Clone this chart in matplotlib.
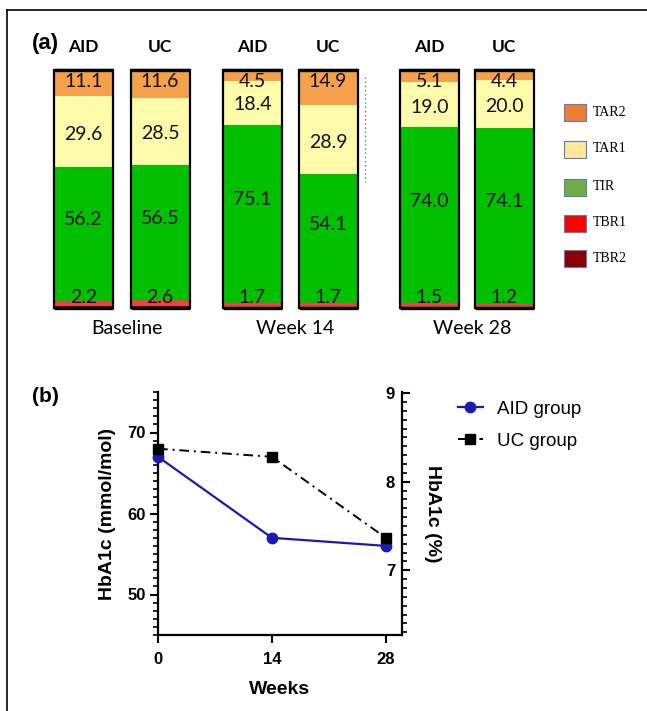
import numpy as np
import matplotlib
matplotlib.use("Agg")
import matplotlib.pyplot as plt
from matplotlib.patches import Rectangle
from matplotlib.ticker import MultipleLocator

# ---- panel (a) data: time in ranges (%) ----
groups = ["Baseline", "Week 14", "Week 28"]
arms = ["AID", "UC", "AID", "UC", "AID", "UC"]
tar2 = [11.1, 11.6, 4.5, 14.9, 5.1, 4.4]
tar1 = [29.6, 28.5, 18.4, 28.9, 19.0, 20.0]
tir = [56.2, 56.5, 75.1, 54.1, 74.0, 74.1]
tbr1 = [2.2, 2.6, 1.7, 1.7, 1.5, 1.2]
tbr2 = [0.9, 0.8, 0.3, 0.4, 0.4, 0.3]
range_names = ["TAR2", "TAR1", "TIR", "TBR1", "TBR2"]

# ---- panel (b) data: HbA1c ----
weeks = [0, 14, 28]
aid_hba1c = [67, 57, 56]
uc_hba1c = [68, 67, 57]

W, H = 647, 711
fig = plt.figure(figsize=(W / 100, H / 100), dpi=100)


def box(x0, y0, x1, y1):
    # pixel box (top-left origin) -> figure fraction rect
    return [x0 / W, 1 - y1 / H, (x1 - x0) / W, (y1 - y0) / H]


# overlay in pixel units for frame, titles and legend of (a)
ov = fig.add_axes([0, 0, 1, 1], zorder=0)
ov.set_xlim(0, W)
ov.set_ylim(H, 0)
ov.axis("off")
ov.plot([7, 7], [10, H], color="black", lw=1.2)
ov.plot([7, W], [10, 10], color="black", lw=1.2)

# ---------------- panel (a) ----------------
ax_a = fig.add_axes(box(53, 70, 534, 308), zorder=1)
ax_a.set_xlim(53, 534)
ax_a.set_ylim(0, 100)
ax_a.axis("off")

xpos = [83.5, 160, 252.5, 328, 429.5, 504]
bw = 59
bar_cols = ["#F5A04A", "#FFFBAA", "#00C000", "#EE4048", "#5A0000"]

stack = [tbr2, tbr1, tir, tar1, tar2]
cols_bottom_up = bar_cols[::-1]
bottom = np.zeros(len(xpos))
for vals, c in zip(stack, cols_bottom_up):
    ax_a.bar(xpos, vals, bw, bottom=bottom, color=c, lw=0, clip_on=False)
    bottom += np.array(vals)
totals = bottom.copy()
ax_a.bar(xpos, totals, bw, fill=False, edgecolor="black", lw=1.6, clip_on=False)
for x, t in zip(xpos, totals):
    ax_a.plot([x - bw / 2, x + bw / 2], [t, t], color="black", lw=2.4,
              solid_capstyle="butt", clip_on=False)
    ax_a.plot([x - bw / 2, x + bw / 2], [0, 0], color="black", lw=2.4,
              solid_capstyle="butt", clip_on=False)

lab_font = dict(family="Lato", fontsize=14, ha="center", va="center", color="#111111")
for i, x in enumerate(xpos):
    b1 = tbr2[i] + tbr1[i]
    ax_a.text(x, 4.6, f"{tbr1[i]:.1f}", **lab_font)
    ax_a.text(x, b1 + tir[i] / 2 + 6, f"{tir[i]:.1f}", **lab_font)
    b2 = b1 + tir[i]
    ax_a.text(x, b2 + tar1[i] / 2 - 1, f"{tar1[i]:.1f}", **lab_font)
    ax_a.text(x, totals[i] - 5, f"{tar2[i]:.1f}", **lab_font)

# arm headers and group labels
for x, a in zip(xpos, arms):
    ov.text(x, 47, a, family="Lato", fontweight="bold", fontsize=12.5,
            ha="center", va="center")
for g, (x0, x1) in zip(groups, [(xpos[0], xpos[1]), (xpos[2], xpos[3]), (xpos[4], xpos[5])]):
    ov.text((x0 + x1) / 2 + 5, 329, g, family="Lato", fontsize=14,
            ha="center", va="center")
ov.text(45, 44, "(a)", family="Liberation Sans", fontweight="bold", fontsize=16,
        ha="center", va="center")
ov.plot([365, 365], [77, 182], color="#777777", lw=1, ls=(0, (1, 2)))

# legend of (a)
leg_cols = ["#ED7D31", "#FFE699", "#70AD47", "#FF0000", "#8B0000"]
for name, c, yc in zip(range_names, leg_cols, [112, 149, 187, 223, 258]):
    ov.add_patch(Rectangle((564, yc - 8.5), 22, 17, facecolor=c,
                           edgecolor="#5B7FB8", lw=0.8))
    ov.text(593, yc, name, family="Liberation Serif", fontsize=10,
            ha="left", va="center")

# ---------------- panel (b) ----------------
sans = "Liberation Sans"
ax_b = fig.add_axes(box(158, 392, 402, 635), zorder=1)
ax_b.plot(weeks, aid_hba1c, color="#1A1AB0", marker="o", ms=7.5, lw=1.6,
          label="AID group", clip_on=False, zorder=3)
ax_b.plot(weeks, uc_hba1c, color="black", ls=(0, (5, 2.5, 1, 2.5)), marker="s",
          ms=6.5, lw=1.4, label="UC group", clip_on=False, zorder=3)
ax_b.set_xlim(0, 30)
ax_b.set_ylim(45, 75)
ax_b.spines["top"].set_visible(False)
ax_b.spines["right"].set_visible(False)
for s in ["left", "bottom"]:
    ax_b.spines[s].set_linewidth(1.6)
ax_b.set_xticks(weeks)
ax_b.set_yticks([50, 60, 70])
ax_b.yaxis.set_minor_locator(MultipleLocator(1))
ax_b.tick_params(axis="both", which="major", length=6, width=1.5, labelsize=12, pad=3)
ax_b.tick_params(axis="y", which="minor", length=3.5, width=1.2)
ax_b.tick_params(axis="x", pad=6)
plt.setp(ax_b.get_xticklabels() + ax_b.get_yticklabels(), family=sans, fontweight="bold")
ax_b.set_xlabel("Weeks", family=sans, fontweight="bold", fontsize=14, labelpad=10)
ax_b.set_ylabel("HbA1c (mmol/mol)", family=sans, fontweight="bold", fontsize=14, labelpad=8)


def to_pct(m):
    return 0.09148 * np.asarray(m) + 2.152


def to_mmol(p):
    return (np.asarray(p) - 2.152) / 0.09148


sec = ax_b.secondary_yaxis("right", functions=(to_pct, to_mmol))
sec.set_yticks([7, 8, 9])
sec.yaxis.set_minor_locator(MultipleLocator(0.1))
sec.tick_params(axis="y", which="both", left=False, right=True,
                labelleft=True, labelright=False, direction="out")
sec.tick_params(axis="y", which="major", length=6, width=1.5, labelsize=12, pad=-1)
sec.tick_params(axis="y", which="minor", length=3.5, width=1.2)
sec.spines["right"].set_linewidth(1.6)
plt.setp(sec.get_yticklabels(), family=sans, fontweight="bold")
sec.set_ylabel("HbA1c (%)", family=sans, fontweight="bold", fontsize=14,
               rotation=270, labelpad=22)

ax_b.legend(loc="upper left", bbox_to_anchor=(450 / W, 1 - 393 / H),
            bbox_transform=fig.transFigure, frameon=False, borderaxespad=0,
            prop=dict(family=sans, size=13.5), handlelength=1.35,
            handletextpad=0.75, labelspacing=0.8)

ov.text(45, 397, "(b)", family=sans, fontweight="bold", fontsize=15,
        ha="center", va="center")

fig.savefig("out.png", dpi=100, facecolor="white")
